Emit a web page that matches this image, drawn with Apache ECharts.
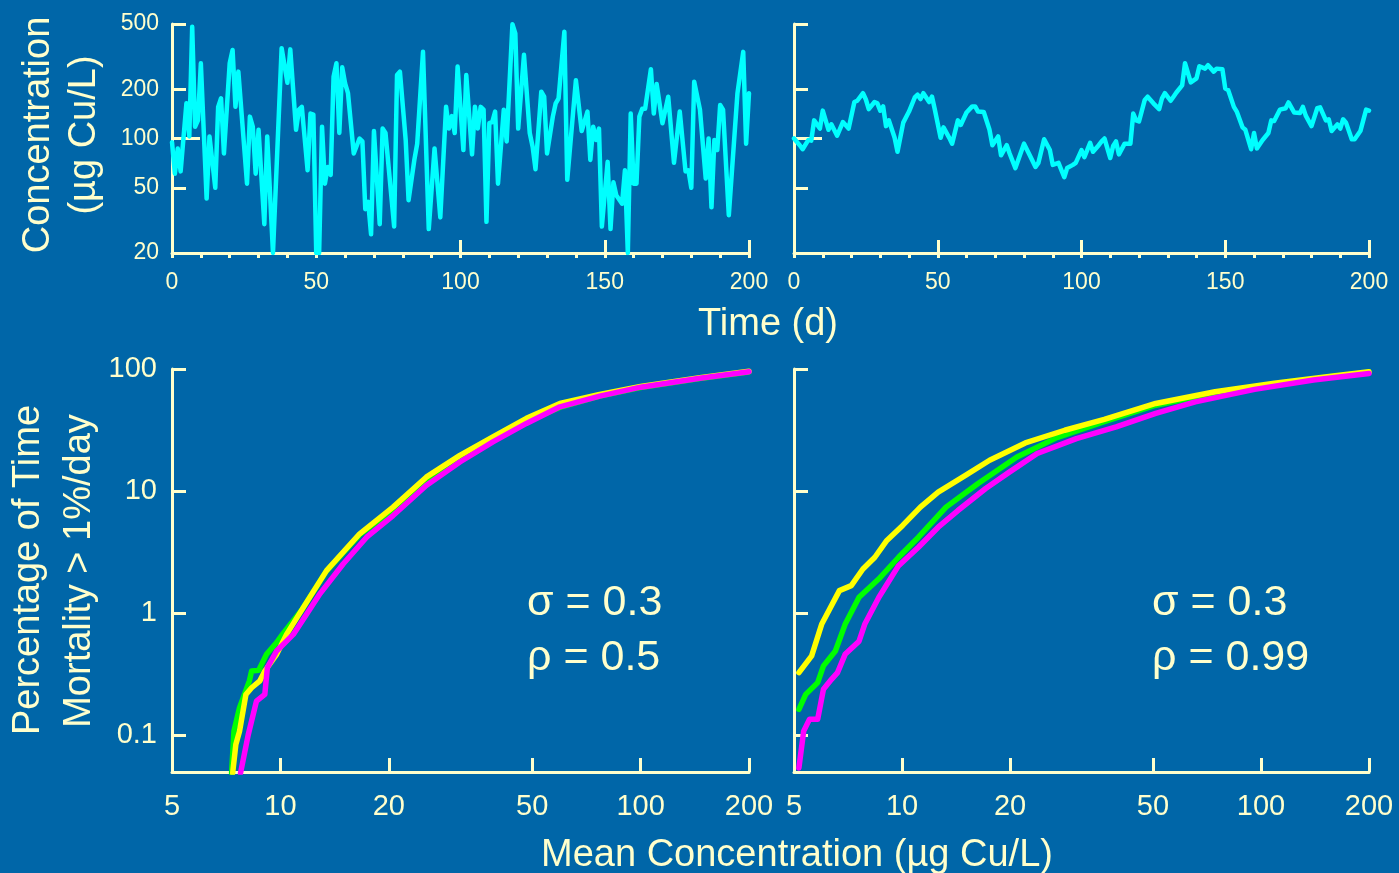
<!DOCTYPE html>
<html><head><meta charset="utf-8">
<script src="https://cdn.jsdelivr.net/npm/echarts@6/dist/echarts.min.js"></script>
<style>html,body{margin:0;padding:0;background:#0066A8}#c{width:1399px;height:873px}</style>
</head><body><div id="c"></div>
<script>
// ---- Top-left: daily concentration, sigma=0.3, rho=0.5 ----
const tlDays = [0,1,2,3,5,6,7,8,9,10,
12,13,15,16,17,18,20,21,22,23,
26,27,28,29,30,32,33,35,38,40,
41,43,44,45,47,48,49,50,51,52,
53,54,55,56,57,58,59,60,61,63,
65,66,67,68,69,70,72,73,74,77,
78,79,81,82,84,85,87,89,91,93,
95,96,97,98,99,101,102,104,105,106,
107,108,109,110,111,112,113,115,116,118,
119,120,122,124,125,126,128,129,130,132,
133,134,136,137,140,142,144,145,146,147,
148,149,151,152,153,154,156,157,158,159,
160,161,162,163,164,166,167,168,170,172,
174,176,178,179,180,181,183,185,186,187,
188,189,190,191,193,196,198,199,200];
const tlConc = [95,61,87,63,164,103,481,118,129,288,
43,103,50,156,176,81,288,347,156,256,
53,136,118,61,113,30,103,20,356,219,
350,113,150,156,64,142,140,20,20,118,
53,67,60,238,288,108,272,217,189,81,
100,96,37,41,26,111,30,115,108,29,
244,256,98,42,74,93,338,28,87,33,
156,115,137,108,275,85,244,80,156,115,
156,150,31,124,126,146,53,150,96,498,
438,115,324,108,89,65,193,180,81,136,
164,176,448,56,227,111,146,74,118,98,
115,29,72,28,54,45,40,64,20,142,
53,53,136,152,152,265,142,215,124,180,
71,146,63,64,50,222,150,57,100,38,
98,85,160,150,34,189,338,93,189];

// ---- Top-right: daily concentration, sigma=0.3, rho=0.99 ----
const trDays = [0,2,3,5,6,7,9,10,12,13,
15,17,19,21,22,24,25,26,28,29,
30,31,32,33,35,36,38,40,42,43,
44,45,47,48,49,51,52,54,55,57,
58,60,62,63,64,66,68,69,71,72,
74,75,77,80,82,84,85,87,89,90,
92,94,95,97,98,100,101,103,104,106,
107,108,110,111,112,113,115,117,118,119,
120,122,123,125,127,128,129,131,132,133,
135,136,138,140,141,143,144,146,147,149,
150,151,153,154,156,157,159,160,161,163,
165,166,167,169,171,172,174,176,177,178,
180,182,183,185,186,187,189,190,191,192,
194,195,197,198,199,200];
const trConc = [100,91,86,98,97,129,115,148,113,122,
104,126,115,167,170,189,173,151,167,164,
148,157,119,129,101,83,125,146,178,185,
174,189,167,180,150,101,117,101,93,129,
121,144,157,157,146,145,113,91,103,79,
91,81,66,93,79,67,71,99,85,69,
71,58,66,69,71,85,77,94,83,91,
96,100,76,90,96,80,93,93,142,129,
127,172,180,164,151,176,189,170,180,191,
211,288,220,233,276,267,280,256,267,265,
202,198,156,146,117,113,86,108,87,98,
108,129,128,150,153,166,144,143,156,138,
119,153,155,129,131,111,122,115,131,125,
99,99,111,129,150,148];

// ---- Bottom-left (rho = 0.5): mean concentration vs % time ----
const blGreenX  = [7.32,7.43,7.70,8.20,8.32,8.70,9.15,9.76,10.13,11.5,13.4,16.6,20.5,25.4,31.5,38.9,48.2,59.7,77,100,146,200];
const blGreenY  = [0.049,0.108,0.168,0.279,0.336,0.34,0.46,0.575,0.67,1.08,2.2,4.4,7.0,12.0,18.3,26.3,37,48.5,60,70.5,83.5,94.5];
const blYellowX = [7.37,7.52,7.70,8.02,8.32,8.77,9.05,9.76,10.4,11.57,13.43,16.6,20.55,25.4,31.5,38.9,48.2,59.7,77,100,146,200];
const blYellowY = [0.049,0.084,0.108,0.216,0.245,0.279,0.336,0.46,0.67,1.11,2.23,4.47,7.39,13.0,19.6,27.8,39.4,52.2,62,72,85,96];
const blMagentaX = [7.75,8.14,8.58,9.05,9.2,9.76,10.86,11.82,12.87,14.93,17.35,20.55,25.4,31.5,38.9,48.2,59.7,77,100,146,200];
const blMagentaY = [0.049,0.101,0.19,0.216,0.358,0.49,0.67,0.98,1.44,2.53,4.19,6.3,11.1,17.3,25.3,35.8,49,60,71,84,95];

// ---- Bottom-right (rho = 0.99) ----
const brYellowX = [5.16,5.6,5.97,6.69,7.22,7.78,8.40,9.07,10.04,11.25,12.61,15.06,17.54,22.05,28.4,36.6,50.9,74.5,109,159,200];
const brYellowY = [0.326,0.447,0.81,1.53,1.68,2.30,2.87,3.94,5.23,7.39,9.8,13.5,17.9,24.8,31.5,38.6,52.2,65.1,76.3,87.6,95];
const brGreenX  = [5.16,5.39,5.82,6.04,6.52,6.94,7.59,8.62,9.78,11.11,13.26,16.25,20.9,27.0,36.6,50.9,74.5,109,159,200];
const brGreenY  = [0.163,0.216,0.27,0.37,0.49,0.81,1.35,1.91,2.87,4.19,7.39,11.5,19.0,27.4,37.0,50.5,63.5,75,86.5,94];
const brMagentaX = [5.16,5.32,5.52,5.82,6.04,6.36,6.61,6.94,7.59,7.87,8.62,9.78,11.11,12.61,14.31,17.1,19.9,23.8,30.6,39.5,50.9,65.6,96,140,200];
const brMagentaY = [0.054,0.108,0.135,0.135,0.238,0.287,0.326,0.46,0.59,0.81,1.35,2.45,3.47,5.06,6.93,10.5,14.3,20.3,26.9,33.6,43.3,53.8,68.1,81.2,92];

// ---- Tick labels ----
const topYTicks = [20, 50, 100, 200, 500];
const topLongTick = [100];
const botYTicks = [0.1, 1, 10, 100];
const botXLabels = [5, 10, 20, 50, 100, 200];
const botXTicks = [10, 20, 50, 100, 200];

const C = '#FFFFCC';
const FONT = '"Liberation Sans", Arial, Helvetica, sans-serif';
const pairs = (xs, ys) => xs.map((x, i) => [x, ys[i]]);

function topX(gi) {
  return {type:'value', gridIndex:gi, min:0, max:200, interval:50, position:'bottom',
    axisLine:{show:true, onZero:false, lineStyle:{color:C, width:3}},
    axisTick:{show:true, inside:true, length:13, lineStyle:{color:C, width:3}},
    axisLabel:{show:true, color:C, fontSize:23, fontFamily:FONT, margin:18},
    splitLine:{show:false}};
}
function topXMinor(gi) {
  return {type:'value', gridIndex:gi, min:0, max:200, interval:10, position:'bottom',
    axisLine:{show:false, onZero:false},
    axisTick:{show:true, inside:false, length:5, lineStyle:{color:C, width:3}},
    axisLabel:{show:false}, splitLine:{show:false}};
}
function topY(gi, showLabel) {
  return {type:'log', logBase:10, gridIndex:gi, min:20, max:500, position:'left',
    axisLine:{show:true, onZero:false, lineStyle:{color:C, width:3}},
    axisTick:{show:true, inside:true, length:14, customValues:topYTicks, lineStyle:{color:C, width:3}},
    axisLabel:{show:showLabel, customValues:topYTicks, color:C, fontSize:23, fontFamily:FONT, margin:13,
      formatter: v => String(v)},
    splitLine:{show:false}, minorSplitLine:{show:false}};
}
function topYLong(gi) {
  return {type:'log', logBase:10, gridIndex:gi, min:20, max:500, position:'left',
    axisLine:{show:false, onZero:false},
    axisTick:{show:true, inside:true, length:28, customValues:topLongTick, lineStyle:{color:C, width:3}},
    axisLabel:{show:false}, splitLine:{show:false}};
}
function botX(gi) {
  return {type:'log', logBase:10, gridIndex:gi, min:5, max:200, position:'bottom',
    axisLine:{show:true, onZero:false, lineStyle:{color:C, width:3}},
    axisTick:{show:true, inside:true, length:14, customValues:botXTicks, lineStyle:{color:C, width:3}},
    axisLabel:{show:true, customValues:botXLabels, color:C, fontSize:29, fontFamily:FONT, margin:20,
      formatter: v => String(v)},
    splitLine:{show:false}};
}
function botY(gi, showLabel) {
  return {type:'log', logBase:10, gridIndex:gi, min:0.05, max:100, position:'left',
    axisLine:{show:true, onZero:false, lineStyle:{color:C, width:3}},
    axisTick:{show:true, inside:true, length:14, customValues:botYTicks, lineStyle:{color:C, width:3}},
    axisLabel:{show:showLabel, customValues:botYTicks, color:C, fontSize:29, fontFamily:FONT, margin:15,
      formatter: v => (v < 1 ? '0.1' : String(Math.round(v)))},
    splitLine:{show:false}};
}
function line(name, xi, yi, data, color, w) {
  return {type:'line', name, xAxisIndex:xi, yAxisIndex:yi, data, showSymbol:false, symbol:'none',
    lineStyle:{color, width:w, join:'round', cap:'round'}, itemStyle:{color}, animation:false};
}
function txt(text, x, y, size, rot, align) {
  return {type:'text', x, y, rotation: rot || 0, z: 10,
    style:{text, fill:C, font: size + 'px ' + FONT, textAlign: align || 'center', textVerticalAlign:'middle'}};
}

const chart = echarts.init(document.getElementById('c'), null, {renderer:'canvas'});
chart.setOption({
  backgroundColor:'#0066A8',
  animation:false,
  grid:[
    {left:172, top:24, width:577, height:229},
    {left:794, top:24, width:575, height:229},
    {left:172, top:369, width:577, height:403},
    {left:794, top:369, width:575, height:403}
  ],
  xAxis:[topX(0), topXMinor(0), topX(1), topXMinor(1), botX(2), botX(3)],
  yAxis:[topY(0,true), topYLong(0), topY(1,false), topYLong(1), botY(2,true), botY(3,false)],
  series:[
    line('conc0.5', 0, 0, pairs(tlDays, tlConc), '#00FFFF', 4.5),
    line('conc0.99', 2, 2, pairs(trDays, trConc), '#00FFFF', 4.5),
    line('bl-green', 4, 4, pairs(blGreenX, blGreenY), '#00FF00', 5.5),
    line('bl-yellow', 4, 4, pairs(blYellowX, blYellowY), '#FFFF00', 5.5),
    line('bl-magenta', 4, 4, pairs(blMagentaX, blMagentaY), '#FF00FF', 5.5),
    line('br-green', 5, 5, pairs(brGreenX, brGreenY), '#00FF00', 5.5),
    line('br-yellow', 5, 5, pairs(brYellowX, brYellowY), '#FFFF00', 5.5),
    line('br-magenta', 5, 5, pairs(brMagentaX, brMagentaY), '#FF00FF', 5.5)
  ],
  graphic:[
    txt('Concentration', 39, 135, 38, Math.PI/2),
    txt('(µg Cu/L)', 85, 135, 38, Math.PI/2),
    txt('Time (d)', 768, 325, 38, 0),
    txt('Percentage of Time', 29, 570, 38, Math.PI/2),
    txt('Mortality > 1%/day', 80, 571, 38, Math.PI/2),
    txt('Mean Concentration (µg Cu/L)', 797, 856, 38, 0),
    txt('σ = 0.3', 527, 603, 43, 0, 'left'),
    txt('ρ = 0.5', 527, 658, 43, 0, 'left'),
    txt('σ = 0.3', 1152, 603, 43, 0, 'left'),
    txt('ρ = 0.99', 1152, 658, 43, 0, 'left')
  ]
});
</script>
</body></html>
